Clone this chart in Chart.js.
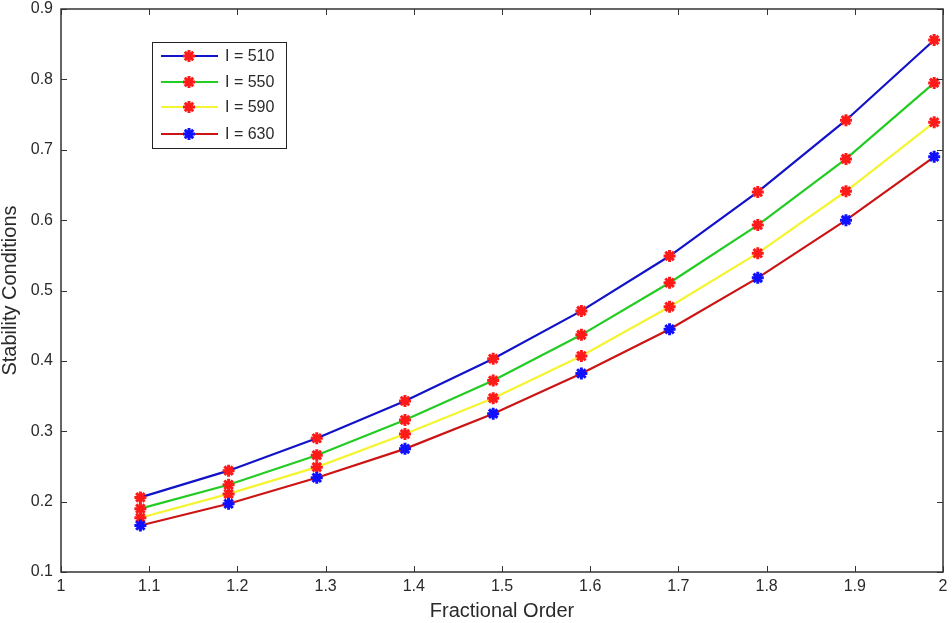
<!DOCTYPE html>
<html>
<head>
<meta charset="utf-8">
<script src="https://cdn.jsdelivr.net/npm/chart.js@4/dist/chart.umd.min.js"></script>
<style>
  html, body { margin: 0; padding: 0; background: #ffffff; }
  #wrap { width: 952px; height: 623px; }
</style>
</head>
<body>
<div id="wrap"><canvas id="c" width="952" height="623"></canvas></div>
<script>
const fractionalOrder = [1.09, 1.19, 1.29, 1.39, 1.49, 1.59, 1.69, 1.79, 1.89, 1.99];
const seriesLabels = ['I = 510', 'I = 550', 'I = 590', 'I = 630'];
const s510 = [0.206, 0.244, 0.290, 0.343, 0.403, 0.471, 0.549, 0.640, 0.742, 0.856];
const s550 = [0.190, 0.224, 0.266, 0.316, 0.372, 0.437, 0.511, 0.593, 0.687, 0.795];
const s590 = [0.177, 0.211, 0.249, 0.296, 0.347, 0.407, 0.477, 0.553, 0.641, 0.739];
const s630 = [0.166, 0.197, 0.234, 0.275, 0.325, 0.382, 0.445, 0.518, 0.600, 0.690];
const xTicks = [1, 1.1, 1.2, 1.3, 1.4, 1.5, 1.6, 1.7, 1.8, 1.9, 2];
const yTicks = [0.1, 0.2, 0.3, 0.4, 0.5, 0.6, 0.7, 0.8, 0.9];

const allSeries = [s510, s550, s590, s630];
const lineColors = ['#1212c8', '#22cc22', '#f4f430', '#cc1414'];
const markerColors = ['#ff1a1a', '#ff1a1a', '#ff1a1a', '#1010ff'];
const FONT = 'Arial, "Liberation Sans", Helvetica, sans-serif';
const TEXT = '#2a2a2a';

const datasets = allSeries.map((vals, i) => ({
  label: seriesLabels[i],
  data: fractionalOrder.map((x, j) => ({ x: x, y: vals[j] })),
  borderColor: lineColors[i],
  backgroundColor: markerColors[i],
  borderWidth: 2.2,
  pointStyle: 'star',
  pointRadius: 6,
  pointBorderWidth: 3,
  pointBorderColor: markerColors[i],
  pointBackgroundColor: markerColors[i],
  tension: 0,
  order: 4 - i
}));

function drawStar(ctx, x, y, r, color) {
  ctx.save();
  ctx.strokeStyle = color;
  ctx.lineWidth = 3;
  ctx.beginPath();
  for (let k = 0; k < 4; k++) {
    const a = k * Math.PI / 4;
    ctx.moveTo(x - Math.cos(a) * r, y - Math.sin(a) * r);
    ctx.lineTo(x + Math.cos(a) * r, y + Math.sin(a) * r);
  }
  ctx.stroke();
  ctx.restore();
}

const framePlugin = {
  id: 'frame',
  beforeDatasetsDraw(chart) {
    const { ctx, chartArea: a } = chart;
    ctx.save();
    ctx.fillStyle = '#ffffff';
    ctx.fillRect(a.left, a.top, a.right - a.left, a.bottom - a.top);
    ctx.restore();
  },
  afterDatasetsDraw(chart) {
    const { ctx, chartArea: a, scales } = chart;
    ctx.save();
    ctx.strokeStyle = '#333333';
    ctx.lineWidth = 1.5;
    ctx.strokeRect(a.left, a.top, a.right - a.left, a.bottom - a.top);
    const L = 6;
    ctx.beginPath();
    xTicks.forEach(v => {
      const px = Math.round(scales.x.getPixelForValue(v)) + 0.5;
      ctx.moveTo(px, a.bottom); ctx.lineTo(px, a.bottom - L);
      ctx.moveTo(px, a.top); ctx.lineTo(px, a.top + L);
    });
    yTicks.forEach(v => {
      const py = Math.round(scales.y.getPixelForValue(v)) + 0.5;
      ctx.moveTo(a.left, py); ctx.lineTo(a.left + L, py);
      ctx.moveTo(a.right, py); ctx.lineTo(a.right - L, py);
    });
    ctx.lineWidth = 1;
    ctx.stroke();

    // legend
    const lx = a.left + 91, ly = a.top + 33, lw = 134, lh = 106;
    ctx.fillStyle = '#ffffff';
    ctx.fillRect(lx, ly, lw, lh);
    ctx.strokeStyle = '#222222';
    ctx.lineWidth = 1;
    ctx.strokeRect(lx + 0.5, ly + 0.5, lw, lh);
    const rows = [14, 40, 65, 92];
    chart.data.datasets.forEach((ds, i) => {
      const y = ly + rows[i];
      ctx.strokeStyle = ds.borderColor;
      ctx.lineWidth = 2.2;
      ctx.beginPath();
      ctx.moveTo(lx + 9, y); ctx.lineTo(lx + 66, y);
      ctx.stroke();
      drawStar(ctx, lx + 37, y, 6, ds.pointBorderColor);
      ctx.fillStyle = TEXT;
      ctx.font = '16px ' + FONT;
      ctx.textBaseline = 'middle';
      ctx.textAlign = 'left';
      ctx.fillText(ds.label, lx + 73, y + 1);
    });
    ctx.restore();
  }
};

new Chart(document.getElementById('c'), {
  type: 'line',
  data: { datasets: datasets },
  options: {
    responsive: false,
    animation: false,
    devicePixelRatio: 1,
    layout: { padding: { top: 9, right: 6, left: 0, bottom: 0 } },
    plugins: { legend: { display: false }, tooltip: { enabled: false } },
    scales: {
      x: {
        type: 'linear',
        min: 1, max: 2,
        afterBuildTicks: s => { s.ticks = xTicks.map(v => ({ value: v })); },
        afterFit: s => { s.height = 51; s.paddingLeft = 0; s.paddingRight = 0; },
        grid: { display: false, drawTicks: false },
        border: { display: false },
        ticks: {
          color: TEXT, padding: 5,
          font: { size: 16, family: FONT },
          callback: v => String(+v.toFixed(1))
        },
        title: {
          display: true, text: 'Fractional Order', color: TEXT,
          font: { size: 20, family: FONT, lineHeight: 1 },
          padding: { top: 0, bottom: 2 }
        }
      },
      y: {
        type: 'linear',
        min: 0.1, max: 0.9,
        afterBuildTicks: s => { s.ticks = yTicks.map(v => ({ value: v })); },
        afterFit: s => { s.width = 61; s.paddingTop = 0; s.paddingBottom = 0; },
        grid: { display: false, drawTicks: false },
        border: { display: false },
        ticks: {
          color: TEXT, padding: 8,
          font: { size: 16, family: FONT },
          callback: v => String(+v.toFixed(1))
        },
        title: {
          display: true, text: 'Stability Conditions', color: TEXT,
          font: { size: 20, family: FONT, lineHeight: 1 },
          padding: { top: 0, bottom: 0 }
        }
      }
    }
  },
  plugins: [framePlugin]
});
</script>
</body>
</html>
